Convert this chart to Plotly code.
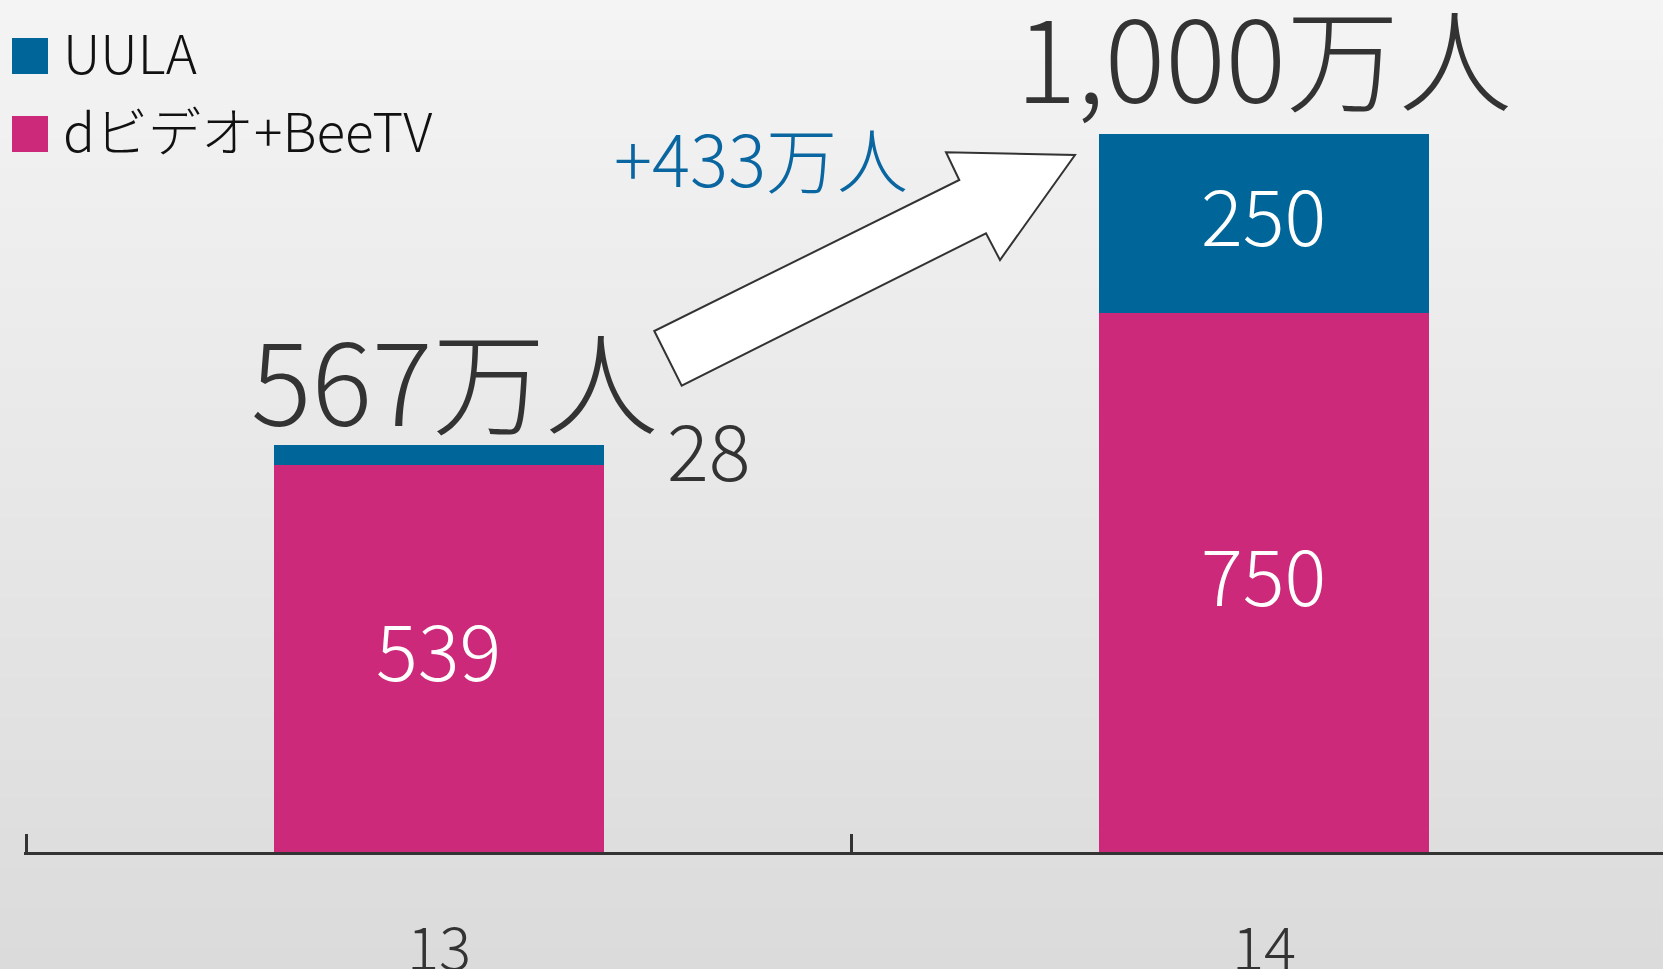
import plotly.graph_objects as go

# ---------------- data ----------------
years = ["13", "14"]
dvideo_beetv = [539, 750]
uula = [28, 250]
series_names = ["UULA", "dビデオ+BeeTV"]
unit = "万人"

# ---------------- style ----------------
W, H = 1663, 969
ML, MB = 24, 117
PW, PH = W - ML, H - MB
CAT_PX = 825.0
X0 = -0.503
PX_PER_UNIT = 0.7184
BLUE = "#006699"
PINK = "#cc297a"
DARK = "#333333"
FONT = "Noto Sans CJK JP, Noto Sans, sans-serif"
LIGHT = 300

totals = [a + b for a, b in zip(dvideo_beetv, uula)]
increase = totals[1] - totals[0]


def px(x, y):
    """full-figure pixel -> paper coordinates"""
    return (x - ML) / PW, (PH - y) / PH


fig = go.Figure()

fig.add_trace(go.Bar(
    x=years, y=dvideo_beetv, name=series_names[1],
    marker=dict(color=PINK, line=dict(width=0)),
    width=0.4, showlegend=False, cliponaxis=False,
))
fig.add_trace(go.Bar(
    x=years, y=uula, name=series_names[0],
    marker=dict(color=BLUE, line=dict(width=0)),
    width=0.4, showlegend=False, cliponaxis=False,
))

shapes = []
# background gradient
N = 97
top_c, bot_c = 244, 219
for i in range(N):
    y0p = i * H / N - 1
    y1p = (i + 1) * H / N + 1
    c = round(top_c + (bot_c - top_c) * (i + 0.5) / N)
    _, ya = px(0, y0p)
    _, yb = px(0, y1p)
    shapes.append(dict(type="rect", xref="paper", yref="paper",
                       x0=px(-2, 0)[0], x1=px(W + 2, 0)[0], y0=yb, y1=ya,
                       fillcolor=f"rgb({c},{c},{c})", line=dict(width=0),
                       layer="below"))

# arrow
arrow_px = [(654.3, 331), (681.7, 385.7), (986, 233.3), (1000, 260),
            (1075, 155), (946, 152.3), (959.3, 180)]
pts = [px(x, y) for x, y in arrow_px]
path = "M " + " L ".join(f"{x:.5f},{y:.5f}" for x, y in pts) + " Z"
shapes.append(dict(type="path", xref="paper", yref="paper", path=path,
                   fillcolor="white", line=dict(color=DARK, width=2),
                   layer="above"))

# legend squares
legend_colors = [BLUE, PINK]
legend_rows = [(38, 74), (116, 152)]
for col, (t, b) in zip(legend_colors, legend_rows):
    x0, y0 = px(12, b)
    x1, y1 = px(48, t)
    shapes.append(dict(type="rect", xref="paper", yref="paper",
                       x0=x0, x1=x1, y0=y0, y1=y1, fillcolor=col,
                       line=dict(width=0)))

annotations = []
# legend labels
for name, (t, b) in zip(series_names, legend_rows):
    xa, ya = px(61, (t + b) / 2 - 5)
    annotations.append(dict(xref="paper", yref="paper", x=xa, y=ya,
                            xanchor="left", yanchor="middle", text=name,
                            showarrow=False,
                            font=dict(family=FONT, size=53, color="#111111",
                                      weight=LIGHT)))

# segment value labels (white, centred in each segment)
for i, (p, u) in enumerate(zip(dvideo_beetv, uula)):
    annotations.append(dict(x=i, y=p / 2, xref="x", yref="y", text=str(p),
                            showarrow=False, xanchor="center", yanchor="middle",
                            yshift=11,
                            font=dict(family=FONT, size=78, color="white",
                                      weight=LIGHT)))
    if u >= 100:
        annotations.append(dict(x=i, y=p + u / 2, xref="x", yref="y",
                                text=str(u), showarrow=False,
                                xanchor="center", yanchor="middle", yshift=11,
                                font=dict(family=FONT, size=78, color="white",
                                          weight=LIGHT)))
    else:
        annotations.append(dict(x=i, y=p + u, xref="x", yref="y", text=str(u),
                                showarrow=False, xanchor="center",
                                yanchor="middle", xshift=270, yshift=-2,
                                font=dict(family=FONT, size=78, color=DARK,
                                          weight=LIGHT)))

# totals
total_shifts = [(16, 68), (0, 80)]
for i, (t, (xs, ys)) in enumerate(zip(totals, total_shifts)):
    annotations.append(dict(x=i, y=t, xref="x", yref="y", text=f"{t:,}{unit}",
                            showarrow=False, xanchor="center", yanchor="middle",
                            xshift=xs, yshift=ys,
                            font=dict(family=FONT, size=113, color=DARK,
                                      weight=LIGHT)))

# increase label
xa, ya = px(761, 156)
annotations.append(dict(xref="paper", yref="paper", x=xa, y=ya,
                        text=f"+{increase}{unit}", showarrow=False,
                        xanchor="center", yanchor="middle",
                        font=dict(family=FONT, size=71, color="#0a66a0",
                                  weight=LIGHT)))

fig.update_layout(
    width=W, height=H,
    margin=dict(l=ML, r=0, t=0, b=MB, pad=0, autoexpand=False),
    barmode="stack",
    paper_bgcolor="rgb(232,232,232)",
    plot_bgcolor="rgba(0,0,0,0)",
    shapes=shapes, annotations=annotations,
    font=dict(family=FONT, color=DARK),
    showlegend=False,
)
fig.update_xaxes(
    type="category", range=[X0, X0 + PW / CAT_PX], automargin=False,
    showline=True, linewidth=3, linecolor=DARK,
    ticks="inside", tickson="boundaries", ticklen=18, tickwidth=2.5,
    tickcolor=DARK, showgrid=False, zeroline=False,
    tickfont=dict(family=FONT, size=60, color=DARK, weight=LIGHT),
    ticklabelstandoff=43,
)
fig.update_yaxes(range=[0, PH / PX_PER_UNIT], visible=False, showgrid=False,
                 zeroline=False, automargin=False)

fig.write_html("out.html",
               config={"displayModeBar": False},
               post_script="document.body.style.margin='0';"
                           "document.body.style.overflow='hidden';")
